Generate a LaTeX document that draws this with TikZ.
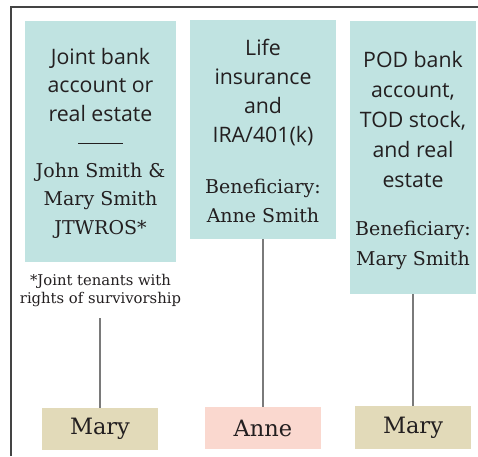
\documentclass[tikz,border=0pt]{standalone}
\usepackage{fontspec}
\newfontfamily\sansf{Open Sans}
\newfontfamily\seriff{DejaVu Serif}
\definecolor{tealfill}{HTML}{C0E3E1}
\definecolor{tanfill}{HTML}{E2DAB9}
\definecolor{pinkfill}{HTML}{FAD8CF}
\definecolor{inkc}{HTML}{231F20}
\definecolor{framec}{HTML}{444444}
\definecolor{linec}{HTML}{7A7A7A}
\begin{document}
\begin{tikzpicture}[x=1pt,y=-1pt,
  assetbox/.style={fill=tealfill, draw=none, inner sep=0pt},
  namebox/.style={draw=none, inner sep=0pt, minimum width=116pt, minimum height=42pt, text=inkc, font=\seriff\fontsize{22.5}{26}\selectfont},
  sanstxt/.style={align=center, text=inkc, inner sep=0pt, font=\sansf\fontsize{21.3}{28.5}\selectfont},
  seriftxt/.style={align=center, text=inkc, inner sep=0pt, font=\seriff\fontsize{19}{28.5}\selectfont},
  notetxt/.style={align=center, text=inkc, inner sep=0pt, font=\seriff\fontsize{14.8}{18}\selectfont},
  frameline/.style={draw=framec, line width=1.4pt},
  conn/.style={draw=linec, line width=1.4pt}]
\useasboundingbox (0,0) rectangle (478,456);
% frame
\coordinate (fbl) at (11,456);
\coordinate (ftl) at (11,7);
\coordinate (ftr) at (478,7);
\draw[frameline] (fbl) -- (ftl) -- (ftr);
% asset boxes
\node[assetbox, minimum width=151pt, minimum height=241pt] (box1) at (100.5,141.5) {};
\node[assetbox, minimum width=146pt, minimum height=219pt] (box2) at (263,129.5) {};
\node[assetbox, minimum width=126pt, minimum height=273pt] (box3) at (413,157.5) {};
% box 1 texts
\node[sanstxt] (t1a) at (100.5,85) {Joint bank\\account or\\real estate};
\node[sanstxt] (t1b) at (100.5,143.5) {\rule[0pt]{45pt}{0.9pt}};
\node[seriftxt] (t1c) at (100.5,200.5) {John Smith \&\\Mary Smith\\JTWROS*};
% box 2 texts
\node[sanstxt, font=\sansf\fontsize{21.3}{29.3}\selectfont] (t2a) at (263,92.5) {Life\\insurance\\and\\IRA/401(k)};
\node[seriftxt] (t2b) at (263,201) {Beneficiary:\\Anne Smith};
% box 3 texts
\node[sanstxt, font=\sansf\fontsize{21.3}{30}\selectfont] (t3a) at (413,120) {POD bank\\account,\\TOD stock,\\and real\\estate};
\node[seriftxt, font=\seriff\fontsize{19}{30}\selectfont] (t3b) at (413,245.5) {Beneficiary:\\Mary Smith};
% footnote
\node[notetxt] (note) at (100.5,291) {*Joint tenants with\\rights of survivorship};
% name boxes
\node[namebox, fill=tanfill] (mary1) at (100,429) {Mary};
\node[namebox, fill=pinkfill] (anne) at (263,428) {Anne};
\node[namebox, fill=tanfill, minimum height=43pt] (mary3) at (413,427.5) {Mary};
% connectors
\coordinate (c1) at (100,318);
\draw[conn] (c1) -- (mary1.north);
\draw[conn] (box2.south) -- (anne.north);
\draw[conn] (box3.south) -- (mary3.north);
\end{tikzpicture}
\end{document}
